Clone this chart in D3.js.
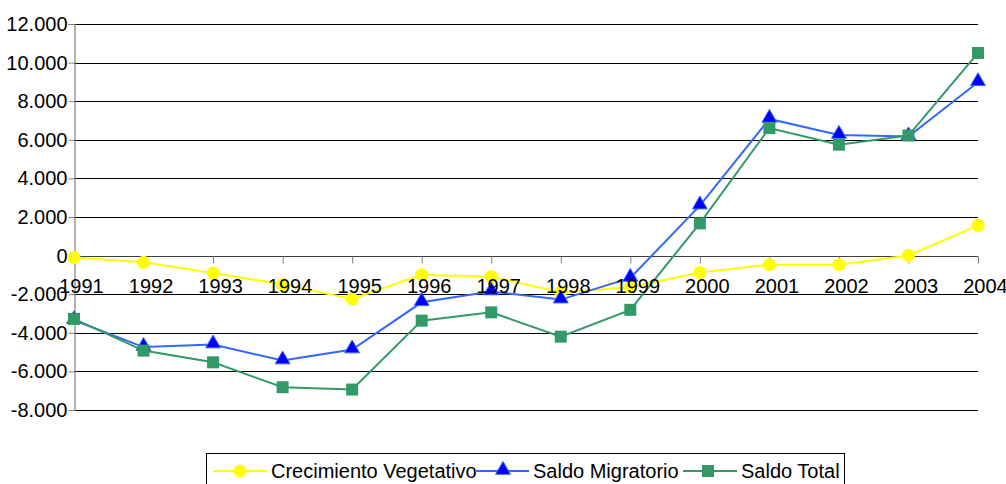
<!DOCTYPE html>
<html>
<head>
<meta charset="utf-8">
<script src="https://cdn.jsdelivr.net/npm/d3@7"></script>
<style>
  body { margin: 0; background: #fff; }
  svg { display: block; font-family: "Liberation Sans", Arial, sans-serif; }
</style>
</head>
<body>
<svg width="1006" height="484"></svg>
<script>
// data
const years = ["1991","1992","1993","1994","1995","1996","1997","1998","1999","2000","2001","2002","2003","2004"];
const vegetativo = [-100, -350, -900, -1500, -2250, -990, -1090, -1900, -1640, -880, -470, -470, 10, 1570];
const migratorio = [-3350, -4740, -4610, -5440, -4870, -2420, -1860, -2280, -1160, 2590, 7080, 6250, 6170, 8980];
const total = [-3280, -4920, -5530, -6820, -6940, -3370, -2940, -4200, -2810, 1670, 6610, 5750, 6220, 10500];
const seriesNames = ["Crecimiento Vegetativo", "Saldo Migratorio", "Saldo Total"];

const svg = d3.select("svg"),
    width = +svg.attr("width"),
    height = +svg.attr("height");

const plotLeft = 74, plotRight = 978, plotTop = 24, plotBottom = 410;

const x = d3.scalePoint()
    .domain(years)
    .range([plotLeft, plotRight]);

const y = d3.scaleLinear()
    .domain([-8000, 12000])
    .range([plotBottom, plotTop]);

const es = d3.formatLocale({decimal: ",", thousands: ".", grouping: [3], currency: ["", ""], minus: "-"});
const fmt = es.format(",d");

svg.append("rect").attr("width", width).attr("height", height).attr("fill", "#fff");

// layers
const gridG = svg.append("g");
const axisG = svg.append("g");
const seriesG = svg.append("g");
const labelG = svg.append("g");

// gridlines
gridG.selectAll("line")
  .data(y.ticks(10))
  .join("line")
    .attr("x1", plotLeft).attr("x2", plotRight)
    .attr("y1", d => Math.round(y(d)) + 0.5)
    .attr("y2", d => Math.round(y(d)) + 0.5)
    .attr("stroke", "#000")
    .attr("stroke-width", 1.2);

// y axis
const yAxis = axisG.append("g")
    .attr("transform", `translate(${plotLeft + 0.5},0)`)
    .call(d3.axisLeft(y).ticks(10).tickSize(6).tickPadding(1).tickFormat(fmt));
yAxis.select(".domain").attr("stroke", "#808080").attr("stroke-width", 1.2);
yAxis.selectAll(".tick line").attr("stroke", "#808080");
yAxis.selectAll(".tick text")
    .attr("fill", "#000")
    .style("font-size", "20px")
    .attr("font-family", null);

// x axis line and ticks on zero
const xAxis = axisG.append("g")
    .attr("transform", `translate(0,${Math.round(y(0)) + 0.5})`)
    .call(d3.axisBottom(x).tickSize(7).tickFormat(""));
xAxis.select(".domain").attr("stroke", "#404040").attr("stroke-width", 1.2)
    .attr("d", `M${plotLeft},0H${plotRight}`);
xAxis.selectAll(".tick line").attr("stroke", "#808080");

// year labels go above the series
const xLabels = labelG.append("g")
    .attr("transform", `translate(0,${Math.round(y(0)) + 0.5})`)
    .call(d3.axisBottom(x).tickSize(7).tickPadding(15));
xLabels.select(".domain").remove();
xLabels.selectAll(".tick line").remove();
xLabels.selectAll(".tick text")
    .attr("fill", "#000")
    .attr("dx", 7)
    .style("font-size", "20px")
    .attr("font-family", null);

// series
const line = d3.line()
    .x((d, i) => x(years[i]))
    .y(d => y(d));

function drawLine(values, color) {
  seriesG.append("path")
    .datum(values)
    .attr("fill", "none")
    .attr("stroke", color)
    .attr("stroke-width", 2)
    .attr("d", line);
}

const triangle = d3.symbol().type(d3.symbolTriangle).size(95);

drawLine(vegetativo, "#ffff00");
seriesG.append("g").selectAll("circle")
  .data(vegetativo)
  .join("circle")
    .attr("cx", (d, i) => x(years[i]))
    .attr("cy", d => y(d))
    .attr("r", 6.5)
    .attr("fill", "#ffff00");

drawLine(migratorio, "#3366ff");
seriesG.append("g").selectAll("path")
  .data(migratorio)
  .join("path")
    .attr("transform", (d, i) => `translate(${x(years[i])},${y(d) - 1})`)
    .attr("d", triangle)
    .attr("fill", "#0000ff")
    .attr("stroke", "#3366ff")
    .attr("stroke-width", 1);

drawLine(total, "#339966");
seriesG.append("g").selectAll("rect")
  .data(total)
  .join("rect")
    .attr("x", (d, i) => x(years[i]) - 6)
    .attr("y", d => y(d) - 6)
    .attr("width", 12)
    .attr("height", 12)
    .attr("fill", "#339966");

// legend
const legend = svg.append("g");
legend.append("rect")
    .attr("x", 206.5).attr("y", 453.5)
    .attr("width", 638).attr("height", 45)
    .attr("fill", "#fff")
    .attr("stroke", "#000")
    .attr("stroke-width", 1);

const legendX = [213, 475, 683];
const legendColors = ["#ffff00", "#3366ff", "#339966"];
const ly = 471;

seriesNames.forEach((name, i) => {
  const g = legend.append("g").attr("transform", `translate(${legendX[i]},${ly})`);
  g.append("line").attr("x1", 0).attr("x2", 54).attr("y1", 0).attr("y2", 0)
    .attr("stroke", legendColors[i]).attr("stroke-width", 2);
  if (i === 0) {
    g.append("circle").attr("cx", 27).attr("cy", 0).attr("r", 6.5).attr("fill", "#ffff00");
  } else if (i === 1) {
    g.append("path").attr("transform", "translate(28,-1)").attr("d", triangle)
      .attr("fill", "#0000ff").attr("stroke", "#3366ff");
  } else {
    g.append("rect").attr("x", 19).attr("y", -6).attr("width", 12).attr("height", 12).attr("fill", "#339966");
  }
  g.append("text")
    .attr("x", 58).attr("y", 7)
    .style("font-size", "20px")
    .attr("fill", "#000")
    .text(name);
});
</script>
</body>
</html>
